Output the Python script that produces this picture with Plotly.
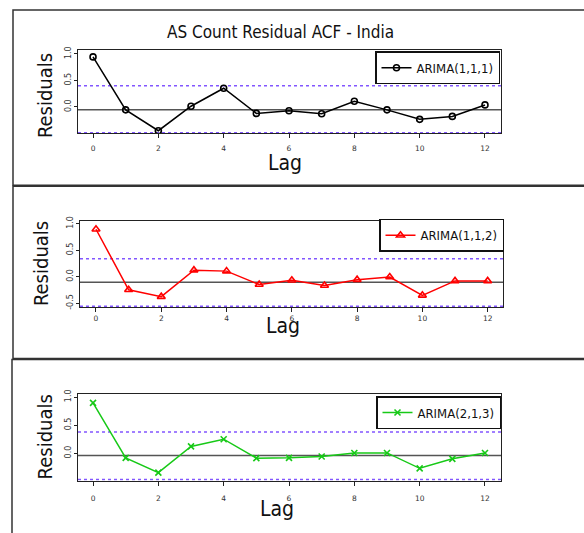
import plotly.graph_objects as go

W, H = 584, 533

lags = list(range(13))
acf_111 = [0.944, -0.056, -0.45, 0.012, 0.352, -0.123, -0.074, -0.13, 0.105, -0.056, -0.235, -0.18, 0.037]
acf_112 = [0.895, -0.247, -0.377, 0.123, 0.105, -0.148, -0.068, -0.167, -0.056, -0.006, -0.352, -0.080, -0.080]
acf_213 = [0.895, -0.081, -0.343, 0.122, 0.25, -0.087, -0.081, -0.058, 0.006, 0.006, -0.267, -0.099, 0.006]

names = ["ARIMA(1,1,1)", "ARIMA(1,1,2)", "ARIMA(2,1,3)"]
colors = ["#000000", "#ff0000", "#17c917"]
symbols = ["circle-open", "triangle-up-open", "x-thin-open"]
center_line = [-0.056, -0.105, -0.041]
upper_ci = [0.40, 0.34, 0.378]
lower_ci = [-0.49, -0.556, -0.465]
yranges = [[-0.494, 1.068], [-0.57, 1.056], [-0.488, 1.052]]
xranges = [[-0.46, 12.49], [-0.49, 12.47], [-0.46, 12.49]]
ytickvals = [-0.5, 0.0, 0.5, 1.0]
yticktext = ["-0.5", "0.0", "0.5", "1.0"]
xtickvals = [0, 2, 4, 6, 8, 10, 12]

def px(x):
    return x / W

def py(y):
    return 1 - y / H

plot_boxes = [  # left, right, top, bottom in pixels
    (78, 501, 46, 130),
    (80, 503, 219, 306.5),
    (78, 501, 395, 483),
]
label_standoff = [4, 0, 6]
panel_boxes = [(13, 5, 183), (13, 184, 359), (12, 360, 540)]
legend_pos = [(500, 47), (504, 217), (501, 397)]
lag_pos = [(285, 160), (283, 326), (277, 512)]
res_pos = [(44.5, 92), (41, 263), (45, 439)]

TITLE_FONT = "DejaVu Sans Condensed, DejaVu Sans, sans-serif"
TICK_FONT = "DejaVu Sans, sans-serif"

series = [acf_111, acf_112, acf_213]

fig = go.Figure()
for i in range(3):
    sfx = "" if i == 0 else str(i + 1)
    fig.add_trace(go.Scatter(
        x=lags, y=series[i], mode="lines+markers", name=names[i],
        line=dict(color=colors[i], width=1.5),
        marker=dict(symbol=symbols[i], size=6 if i != 1 else 7, color=colors[i],
                    line=dict(color=colors[i], width=1.6)),
        xaxis="x" + sfx, yaxis="y" + sfx,
        legend="legend" + sfx,
    ))
    l, r, t, b = plot_boxes[i]
    fig.update_layout(**{
        "xaxis" + sfx: dict(
            domain=[px(l), px(r)], range=xranges[i], anchor="y" + sfx,
            tickvals=xtickvals, ticks="outside", ticklen=4, tickcolor="#222",
            showline=True, mirror=True, linecolor="#222", linewidth=1.2,
            showgrid=False, zeroline=False, ticklabelstandoff=label_standoff[i],
            tickfont=dict(family=TICK_FONT, size=7.5, color="#333"),
        ),
        "yaxis" + sfx: dict(
            domain=[py(b), py(t)], range=yranges[i], anchor="x" + sfx,
            tickvals=ytickvals, ticktext=yticktext, tickangle=-90,
            ticks="outside", ticklen=3, tickcolor="#222",
            showline=True, mirror=True, linecolor="#222", linewidth=1.2,
            showgrid=False, zeroline=False,
            tickfont=dict(family=TICK_FONT, size=8, color="#333"),
        ),
        "legend" + sfx: dict(
            x=px(legend_pos[i][0]), y=py(legend_pos[i][1]), xanchor="right", yanchor="top",
            bordercolor="#111", borderwidth=1.5, bgcolor="white",
            font=dict(family=TITLE_FONT, size=13, color="#111"),
            itemwidth=30,
        ),
    })
    xr = "x" + sfx + " domain"
    yr = "y" + sfx
    fig.add_shape(type="line", xref=xr, yref=yr, x0=0, x1=1, y0=center_line[i], y1=center_line[i],
                  line=dict(color="#555", width=1.5), layer="below")
    for v in (upper_ci[i], lower_ci[i]):
        fig.add_shape(type="line", xref=xr, yref=yr, x0=0, x1=1, y0=v, y1=v,
                      line=dict(color="#8256ff", width=1.5, dash="3px,3px"), layer="below")
    pl, pt, pb = panel_boxes[i]
    fig.add_shape(type="rect", xref="paper", yref="paper", x0=px(pl), x1=1.05,
                  y0=py(pb), y1=py(pt), line=dict(color="#333", width=1.5))
    fig.add_annotation(text="Lag", xref="paper", yref="paper", x=px(lag_pos[i][0]), y=py(lag_pos[i][1]),
                       xanchor="center", yanchor="middle", showarrow=False,
                       font=dict(family=TITLE_FONT, size=21, color="#111"))
    fig.add_annotation(text="Residuals", xref="paper", yref="paper", x=px(res_pos[i][0]), y=py(res_pos[i][1]),
                       xanchor="center", yanchor="middle", showarrow=False, textangle=-90,
                       font=dict(family=TITLE_FONT, size=20, color="#111"))

fig.add_annotation(text="AS Count Residual ACF - India", xref="paper", yref="paper",
                   x=px(280), y=py(27), xanchor="center", yanchor="middle", showarrow=False,
                   font=dict(family=TITLE_FONT, size=17, color="#111"))

fig.update_layout(
    width=W, height=H, margin=dict(l=0, r=0, t=0, b=0),
    paper_bgcolor="white", plot_bgcolor="white", showlegend=True,
)

fig.write_html("out.html")
